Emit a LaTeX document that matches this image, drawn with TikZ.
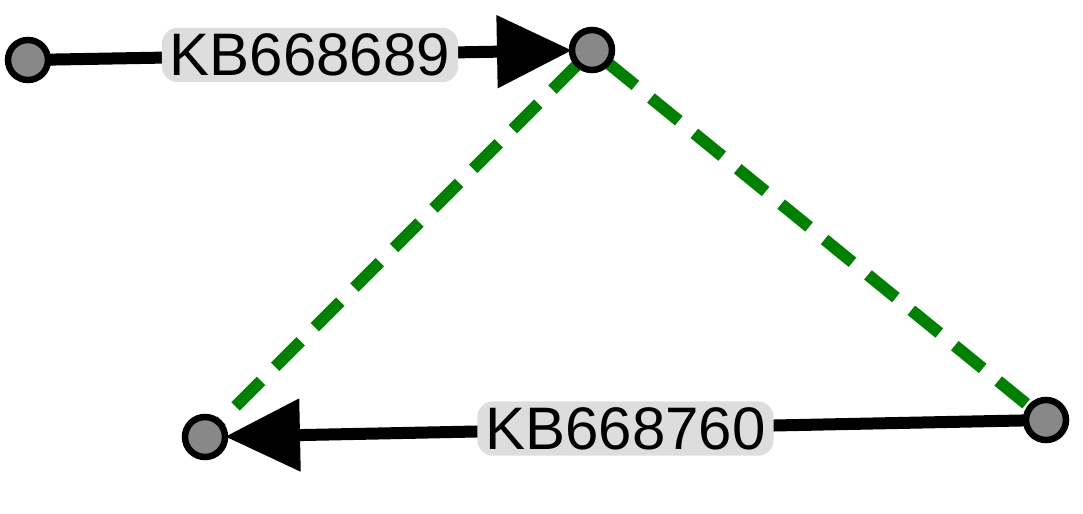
\documentclass[tikz,border=0pt]{standalone}
\usepackage{fontspec}
\setmainfont{Liberation Sans}
\usetikzlibrary{arrows.meta,backgrounds}
\definecolor{nodegray}{HTML}{888888}
\definecolor{labelgray}{HTML}{DDDDDD}
\definecolor{dashgreen}{HTML}{008000}
\tikzset{
  vtx/.style={circle,draw=black,fill=nodegray,line width=6.5bp,minimum size=40bp,inner sep=0pt,outer sep=0pt},
  solidedge/.style={draw=black,line width=12bp},
  greenedge/.style={draw=dashgreen,line width=12bp,dash pattern=on 36bp off 20bp},
  edgelabel/.style={fill=labelgray,rounded corners=16bp,inner xsep=8bp,inner ysep=6bp,font=\fontsize{60bp}{62bp}\selectfont,text=black},
  bigtip/.style={-{Triangle[length=75bp,width=70bp]}}
}
\begin{document}
\begin{tikzpicture}[x=1bp,y=-1bp]
\useasboundingbox (0,0) rectangle (1083,514);
\node[vtx] (a) at (28,60) {};
\node[vtx] (b) at (592,50) {};
\node[vtx] (c) at (205,437) {};
\node[vtx] (d) at (1046,420) {};
\begin{scope}[on background layer]
\draw[greenedge] (b) -- (c);
\draw[greenedge] (b) -- (d);
\draw[solidedge,bigtip] (a) -- node[edgelabel,pos=0.5] (l1) {KB668689} (b);
\draw[solidedge,bigtip] (d) -- node[edgelabel,pos=0.5] (l2) {KB668760} (c);
\end{scope}
\end{tikzpicture}
\end{document}
